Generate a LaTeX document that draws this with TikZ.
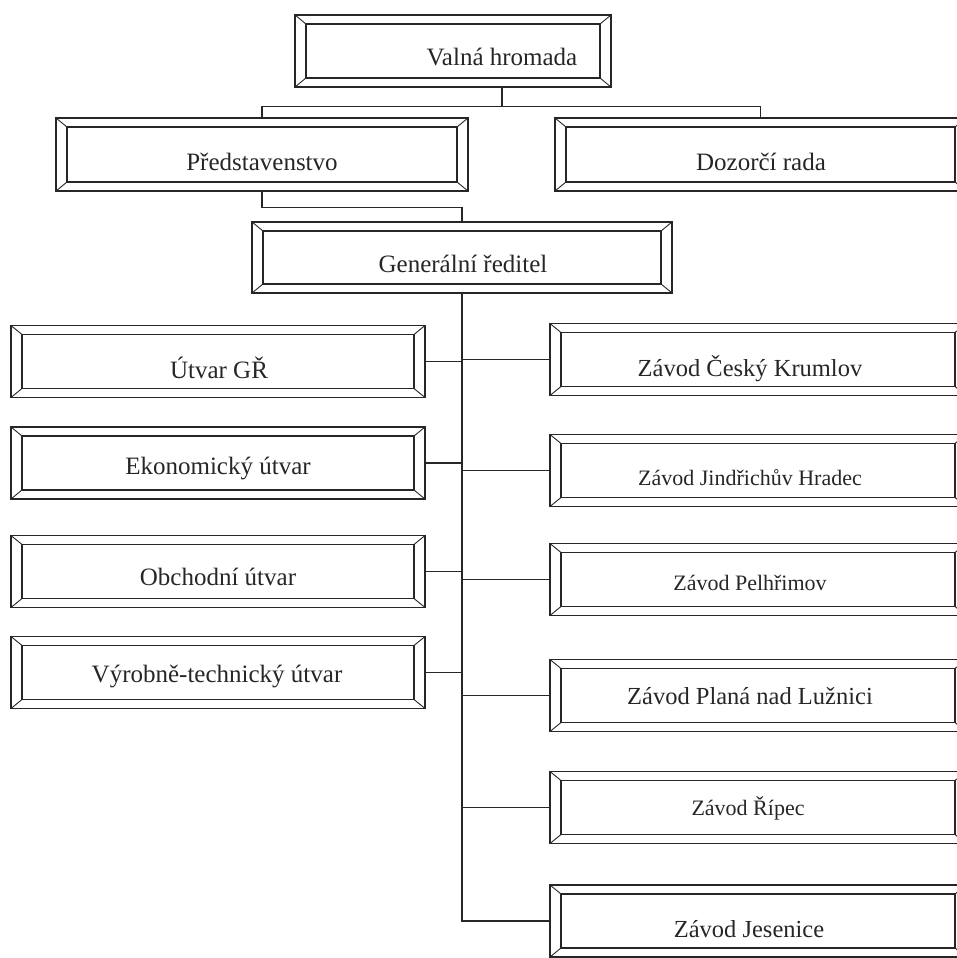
\documentclass[tikz,border=0pt]{standalone}
\usepackage{fontspec}
\setmainfont{Liberation Serif}
\usetikzlibrary{calc}

\tikzset{
  % framed box with a bevelled inner frame
  bevelbox/.style={
    draw=black!85, line width=1.6pt, rectangle, inner sep=0pt,
    path picture={
      \path (path picture bounding box.north west) coordinate (bbnw)
            (path picture bounding box.north east) coordinate (bbne)
            (path picture bounding box.south west) coordinate (bbsw)
            (path picture bounding box.south east) coordinate (bbse);
      \draw[black!85, line width=1.2pt]
        ([shift={(11pt,-9pt)}]bbnw) rectangle ([shift={(-11pt,9pt)}]bbse);
      \draw[black!85, line width=0.9pt]
        (bbnw) -- ([shift={(11pt,-9pt)}]bbnw)
        (bbne) -- ([shift={(-11pt,-9pt)}]bbne)
        (bbsw) -- ([shift={(11pt,9pt)}]bbsw)
        (bbse) -- ([shift={(-11pt,9pt)}]bbse);
    }},
  leftbox/.style={bevelbox, minimum width=414pt, minimum height=72pt},
  rightbox/.style={bevelbox, minimum width=416pt, minimum height=72pt},
  lbl/.style={anchor=base, inner sep=0pt, text=black!85,
    font=\fontsize{25}{29}\selectfont},
  lblsmall/.style={lbl, font=\fontsize{22}{26}\selectfont},
  link/.style={draw=black!85, line width=1.3pt},
}

\begin{document}
\begin{tikzpicture}[x=1pt, y=-1pt]
  \useasboundingbox (0,0) rectangle (957,958);
  \clip (0,0) rectangle (957,958);

  % governing bodies
  \node[bevelbox, minimum width=316pt, minimum height=72pt] (vh) at (453,51) {};
  \node[bevelbox, minimum width=412pt, minimum height=73pt] (pr) at (262,154.5) {};
  \node[bevelbox, minimum width=411pt, minimum height=73pt] (dr) at (760.5,154.5) {};
  \node[bevelbox, minimum width=420pt, minimum height=71pt] (gr) at (462,257.5) {};

  \node[lbl] (vhT) at (502,66) {Valná hromada};
  \node[lbl] (prT) at (262,170) {Představenstvo};
  \node[lbl] (drT) at (761,170) {Dozorčí rada};
  \node[lbl] (grT) at (463,272) {Generální ředitel};

  % departments of the general director
  \node[leftbox] (ug) at (218,361.5) {};
  \node[leftbox] (eu) at (218,463) {};
  \node[leftbox] (ou) at (218,571.5) {};
  \node[leftbox] (vt) at (218,672.5) {};

  \node[lbl] (ugT) at (219,378) {Útvar GŘ};
  \node[lbl] (euT) at (218,474) {Ekonomický útvar};
  \node[lbl] (ouT) at (218,585) {Obchodní útvar};
  \node[lbl] (vtT) at (217,682) {Výrobně-technický útvar};

  % plants
  \node[rightbox] (ck) at (758,359.5) {};
  \node[rightbox] (jh) at (758,470.5) {};
  \node[rightbox] (pe) at (758,579.5) {};
  \node[rightbox] (pl) at (758,695.5) {};
  \node[rightbox] (ri) at (758,807.5) {};
  \node[rightbox] (je) at (758,921) {};

  \node[lbl, font=\fontsize{24.5}{28}\selectfont] (ckT) at (750,376) {Závod Český Krumlov};
  \node[lblsmall] (jhT) at (750,485) {Závod Jindřichův Hradec};
  \node[lblsmall] (peT) at (750,590) {Závod Pelhřimov};
  \node[lbl, font=\fontsize{24.5}{28}\selectfont] (plT) at (750,704) {Závod Planá nad Lužnici};
  \node[lblsmall] (riT) at (748,815) {Závod Řípec};
  \node[lbl, font=\fontsize{24.5}{28}\selectfont] (jeT) at (749,937) {Závod Jesenice};

  % connectors at the top
  \coordinate (vhfoot) at ([xshift=49pt]vh.south);
  \draw[link] (pr.north) -- ++(0,-11) coordinate (bar) -| (dr.north);
  \draw[link] (vhfoot) -- (vhfoot |- bar);
  \draw[link] (pr.south) -- ++(0,16) -| (gr.north);

  % trunk and branches
  \draw[link] (gr.south) |- (je.west);
  \foreach \n in {ug,eu,ou,vt} \draw[link] (\n.east) -- (\n.east -| gr.south);
  \foreach \n in {ck,jh,pe,pl,ri} \draw[link] (\n.west) -- (\n.west -| gr.south);
\end{tikzpicture}
\end{document}
